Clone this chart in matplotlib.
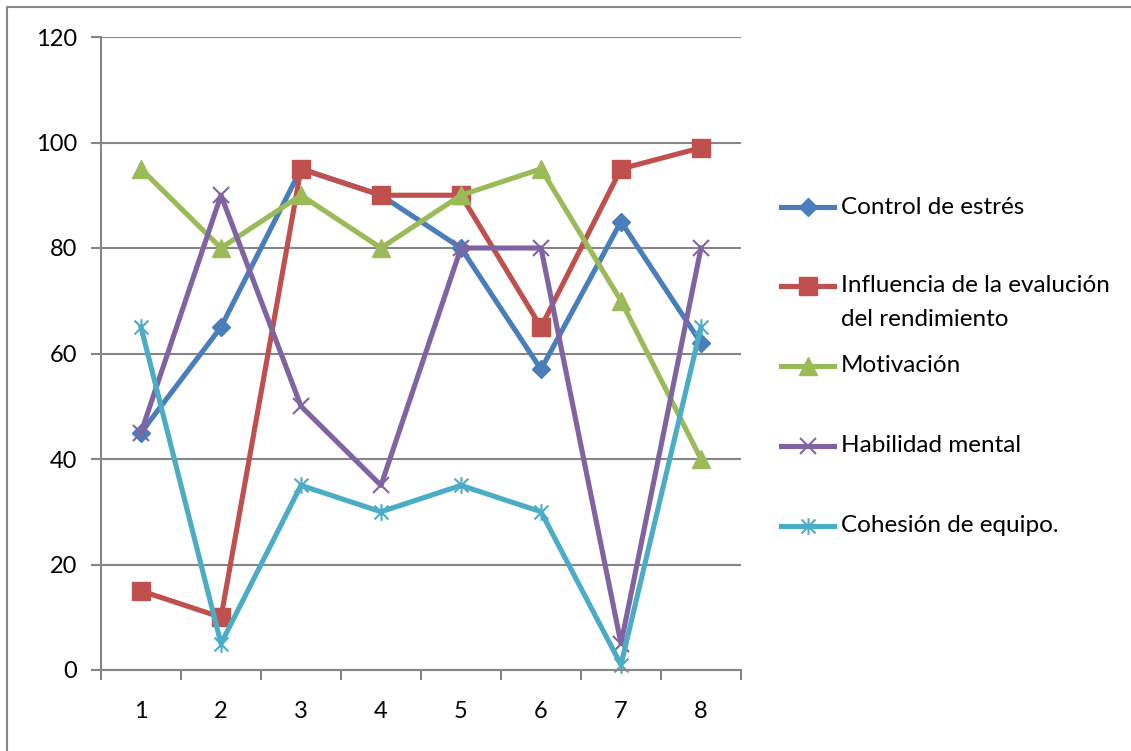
import numpy as np
import matplotlib.pyplot as plt
from matplotlib.lines import Line2D
from matplotlib.path import Path

plt.rcParams['font.family'] = ['Lato', 'DejaVu Sans']

# datos por sesión
sesiones = [1, 2, 3, 4, 5, 6, 7, 8]
control_estres = [45, 65, 95, 90, 80, 57, 85, 62]
influencia_eval = [15, 10, 95, 90, 90, 65, 95, 99]
motivacion = [95, 80, 90, 80, 90, 95, 70, 40]
habilidad_mental = [45, 90, 50, 35, 80, 80, 5, 80]
cohesion_equipo = [65, 5, 35, 30, 35, 30, 1, 65]

nombres = [['Control de estrés'],
           ['Influencia de la evalución', 'del rendimiento'],
           ['Motivación'],
           ['Habilidad mental'],
           ['Cohesión de equipo.']]
colores = ['#4A7EBB', '#C0504D', '#9BBB59', '#8064A2', '#4BACC6']

# asterisco tipo Excel: aspa + línea vertical
asterisco = Path([(-1, -1), (1, 1), (-1, 1), (1, -1), (0, -1.2), (0, 1.2)],
                 [Path.MOVETO, Path.LINETO, Path.MOVETO, Path.LINETO,
                  Path.MOVETO, Path.LINETO])

estilos = [
    dict(marker='D', markersize=9),
    dict(marker='s', markersize=12.5),
    dict(marker='^', markersize=13),
    dict(marker='x', markersize=12, markeredgewidth=1.5),
    dict(marker=asterisco, markersize=12, markeredgewidth=1.5),
]
series = [control_estres, influencia_eval, motivacion, habilidad_mental, cohesion_equipo]

W, H = 1131, 751
fig = plt.figure(figsize=(W / 100, H / 100), dpi=100)
ax = fig.add_axes([101 / W, 1 - 670 / H, 640 / W, 633 / H])

gris = '#868686'
for y, c, e in zip(series, colores, estilos):
    ax.plot(sesiones, y, color=c, lw=3.7, markerfacecolor=c, markeredgecolor=c,
            solid_joinstyle='round', clip_on=False, **e)

ax.set_xlim(0.5, 8.5)
ax.set_ylim(0, 120)
ax.set_yticks(np.arange(0, 121, 20))
ax.set_xticks(np.arange(0.5, 8.6, 1))
ax.set_xticklabels([])
ax.set_xticks(sesiones, minor=True)
ax.set_xticklabels([str(s) for s in sesiones], minor=True)
ax.tick_params(axis='x', which='major', length=7, width=1.5, color=gris, direction='out')
ax.tick_params(axis='x', which='minor', length=0, pad=22, labelsize=17)
ax.tick_params(axis='y', length=7, width=1.5, color=gris, direction='out', pad=10, labelsize=17)
ax.grid(axis='y', color=gris, lw=1.5)
ax.set_axisbelow(True)
for s in ['top', 'right']:
    ax.spines[s].set_visible(False)
for s in ['left', 'bottom']:
    ax.spines[s].set_color(gris)
    ax.spines[s].set_linewidth(1.5)

# leyenda dibujada a mano
ley_y = [207, 286, 366, 446, 526]
for yy, lineas, c, e in zip(ley_y, nombres, colores, estilos):
    fy = 1 - yy / H
    fig.add_artist(Line2D([781 / W, 834 / W], [fy, fy], color=c, lw=3.7))
    fig.add_artist(Line2D([807.5 / W], [fy], color=c, markerfacecolor=c,
                          markeredgecolor=c, linestyle='none', **e))
    for i, txt in enumerate(lineas):
        fig.text(841 / W, 1 - (yy + 33 * i) / H, txt, ha='left', va='center',
                 fontsize=17.5)

# marco del gráfico
fig.add_artist(Line2D([7 / W, 7 / W, 1.0], [0.0, 1 - 7 / H, 1 - 7 / H], color=gris, lw=1.5))

fig.savefig('out.png', dpi=100)
